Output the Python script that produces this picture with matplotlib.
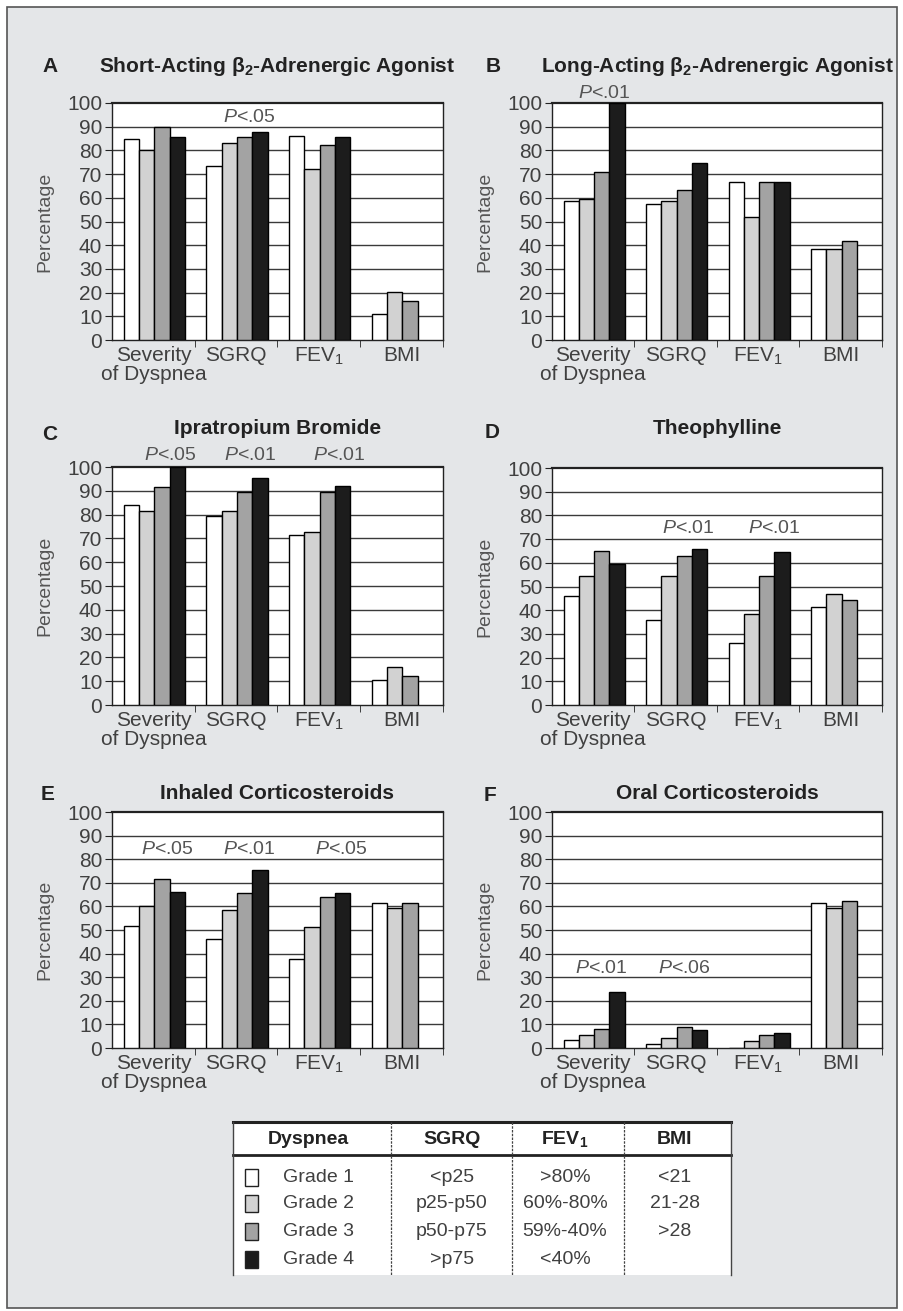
import numpy as np
import matplotlib
matplotlib.use("Agg")
import matplotlib.pyplot as plt
from matplotlib.patches import Rectangle

plt.rcParams['font.family'] = ['Liberation Sans', 'DejaVu Sans']
plt.rcParams['mathtext.fontset'] = 'custom'
plt.rcParams['mathtext.rm'] = 'Liberation Sans'
plt.rcParams['mathtext.it'] = 'Liberation Sans:italic'
plt.rcParams['mathtext.bf'] = 'Liberation Sans:bold'

# ---------------- data ----------------
categories = ["Severity\nof Dyspnea", "SGRQ", "FEV$_1$", "BMI"]
grades = ["Grade 1", "Grade 2", "Grade 3", "Grade 4"]
nan = np.nan

# rows = grade 1..4, columns = categories
saba = [[85, 73.5, 86, 11], [80, 83, 72.3, 20.4], [89.7, 85.5, 82.4, 16.5], [85.5, 87.7, 85.8, nan]]
laba = [[58.5, 57.3, 66.5, 38.3], [59.4, 58.5, 51.7, 38.3], [70.8, 63.1, 66.5, 41.8], [100, 74.6, 66.5, nan]]
iprat = [[84.2, 79.6, 71.5, 10.4], [81.7, 81.7, 72.8, 16], [91.8, 89.7, 89.7, 12.1], [100, 95.4, 92, nan]]
theo = [[46, 35.8, 26, 41.4], [54.6, 54.6, 38.2, 47], [65, 62.8, 54.6, 44.3], [59.6, 66, 64.5, nan]]
ics = [[51.5, 46, 37.6, 61.4], [60, 58.5, 51.1, 59.3], [71.4, 65.7, 63.9, 61.4], [66, 75.3, 65.7, nan]]
ocs = [[3.6, 1.7, 0, 61.5], [5.3, 4.3, 3, 59.5], [7.9, 9, 5.3, 62.3], [23.6, 7.6, 6.5, nan]]

saba_p = [None, ".05", None, None]
laba_p = [".01", None, None, None]
iprat_p = [".05", ".01", ".01", None]
theo_p = [None, ".01", ".01", None]
ics_p = [".05", ".01", ".05", None]
ocs_p = [".01", ".06", None, None]

titles = ["Short-Acting β$_\\mathbf{2}$-Adrenergic Agonist",
          "Long-Acting β$_\\mathbf{2}$-Adrenergic Agonist",
          "Ipratropium Bromide", "Theophylline",
          "Inhaled Corticosteroids", "Oral Corticosteroids"]
letters = ["A", "B", "C", "D", "E", "F"]

sgrq_def = ["<p25", "p25-p50", "p50-p75", ">p75"]
fev_def = [">80%", "60%-80%", "59%-40%", "<40%"]
bmi_def = ["<21", "21-28", ">28", ""]

# ---------------- style ----------------
W, H = 904, 1311
bar_colors = ["#ffffff", "#d2d2d2", "#a3a3a3", "#1c1c1c"]
bg = "#e4e6e8"
txt = "#404040"

fig = plt.figure(figsize=(W / 100, H / 100), dpi=100)
fig.patch.set_facecolor("white")
fig.patches.append(Rectangle((7 / W, 0.002), 890 / W, 1 - 7 / H - 0.002, transform=fig.transFigure,
                             facecolor=bg, edgecolor="#555555", lw=1.2, zorder=-10))

def fx(px):
    return px / W

def fy(py):
    return 1 - py / H

# panel layout: (left, right, top, bottom) in pixels, title y, letter pos, p-label y, p offsets
panels = [
    (saba, saba_p, (112, 443, 103, 340), 67, (50, 67), 94, [0, 0.16, 0, 0]),
    (laba, laba_p, (552, 882, 103, 340), 67, (493, 67), 104, [0.13, 0, 0, 0]),
    (iprat, iprat_p, (112, 443, 467, 705), 428, (50, 434), 105, [0.2, 0.17, 0.25, 0]),
    (theo, theo_p, (552, 882, 468, 705), 428, (492, 433), 74.5, [0, 0.15, 0.19, 0]),
    (ics, ics_p, (112, 443, 812, 1048), 793, (48, 794), 84, [0.17, 0.16, 0.27, 0]),
    (ocs, ocs_p, (552, 882, 812, 1048), 793, (490, 795), 33.5, [0.1, 0.1, 0, 0]),
]

bw = 0.185
offs = np.array([-1.5, -0.5, 0.5, 1.5]) * bw + 0.01
x = np.arange(len(categories))

for i, (vals, pv, (l, r, t, b), ty, (lx, ly), py, poff) in enumerate(panels):
    ax = fig.add_axes([fx(l), fy(b), fx(r - l), (b - t) / H])
    ax.set_facecolor("white")
    for g in range(4):
        ax.bar(x + offs[g], vals[g], width=bw, color=bar_colors[g], edgecolor="black",
               linewidth=1.0, zorder=3)
    ax.set_xlim(-0.5, 3.5)
    ax.set_ylim(0, 100)
    ax.set_yticks(np.arange(0, 101, 10))
    for yv in range(10, 100, 10):
        ax.axhline(yv, color="#3a3a3a", lw=1.0, zorder=1)
    ax.set_xticks(x)
    ax.set_xticklabels(categories, fontsize=15, color=txt, linespacing=1.05)
    ax.set_xticks([0.5, 1.5, 2.5, 3.5], minor=True)
    ax.tick_params(axis="x", which="major", length=0, pad=4)
    ax.tick_params(axis="x", which="minor", length=5, direction="out", color="#222")
    ax.tick_params(axis="y", length=5, direction="out", labelsize=15, labelcolor=txt, color="#222", pad=2)
    for s in ["left", "right", "bottom"]:
        ax.spines[s].set_color("#222")
        ax.spines[s].set_linewidth(1.0)
    ax.spines["top"].set_color("#222")
    ax.spines["top"].set_linewidth(1.6)
    ax.set_ylabel("Percentage", fontsize=14, color="#555555")
    ax.yaxis.set_label_coords(-0.178, 0.5)
    for c, p in enumerate(pv):
        if p is not None:
            ax.text(c + poff[c], py, "$P$<" + p, ha="center", va="center", fontsize=14,
                    color="#555555", zorder=5, clip_on=False)
    fig.text(fx((l + r) / 2), fy(ty), titles[i], ha="center", va="center", fontsize=15,
             fontweight="bold", color="#222222")
    fig.text(fx(lx), fy(ly), letters[i], ha="center", va="center", fontsize=15,
             fontweight="bold", color="#222222")

# ---------------- legend table ----------------
tl, tr, tt, tb = 233, 731, 1122, 1275
tax = fig.add_axes([fx(tl), fy(tb), fx(tr - tl), (tb - tt) / H])
tax.set_xlim(0, tr - tl)
tax.set_ylim(tb - tt, 0)
tax.axis("off")
tw, th = tr - tl, tb - tt
tax.add_patch(Rectangle((0, 0), tw, th, facecolor="white", edgecolor="none", zorder=0))
tax.plot([0, tw], [0, 0], color="#222", lw=2.2, zorder=3, clip_on=False)
tax.plot([0, tw], [33, 33], color="#222", lw=2.0, zorder=3, clip_on=False)
for xv in [0, tw]:
    tax.plot([xv, xv], [0, th], color="#444", lw=1.0, zorder=3, clip_on=False)
for xv in [158, 279, 391]:
    tax.plot([xv, xv], [0, th], color="#444", lw=0.9, ls=(0, (2, 1)), zorder=3)

col_centers = [75, 219, 332, 442]
headers = ["Dyspnea", "SGRQ", "FEV$_\\mathbf{1}$", "BMI"]
for cx, hd in zip(col_centers, headers):
    tax.text(cx, 17, hd, ha="center", va="center", fontsize=14, fontweight="bold", color="#222")

row_y = [55, 81, 109, 137]
for g in range(4):
    yv = row_y[g]
    tax.add_patch(Rectangle((12, yv - 8.5), 13, 17, facecolor=bar_colors[g], edgecolor="#222",
                            lw=1.0, zorder=4))
    tax.text(50, yv, grades[g], ha="left", va="center", fontsize=14, color=txt)
    tax.text(col_centers[1], yv, sgrq_def[g], ha="center", va="center", fontsize=14, color=txt)
    tax.text(col_centers[2], yv, fev_def[g], ha="center", va="center", fontsize=14, color=txt)
    tax.text(col_centers[3], yv, bmi_def[g], ha="center", va="center", fontsize=14, color=txt)

fig.savefig("out.png", dpi=100, facecolor=fig.get_facecolor())
